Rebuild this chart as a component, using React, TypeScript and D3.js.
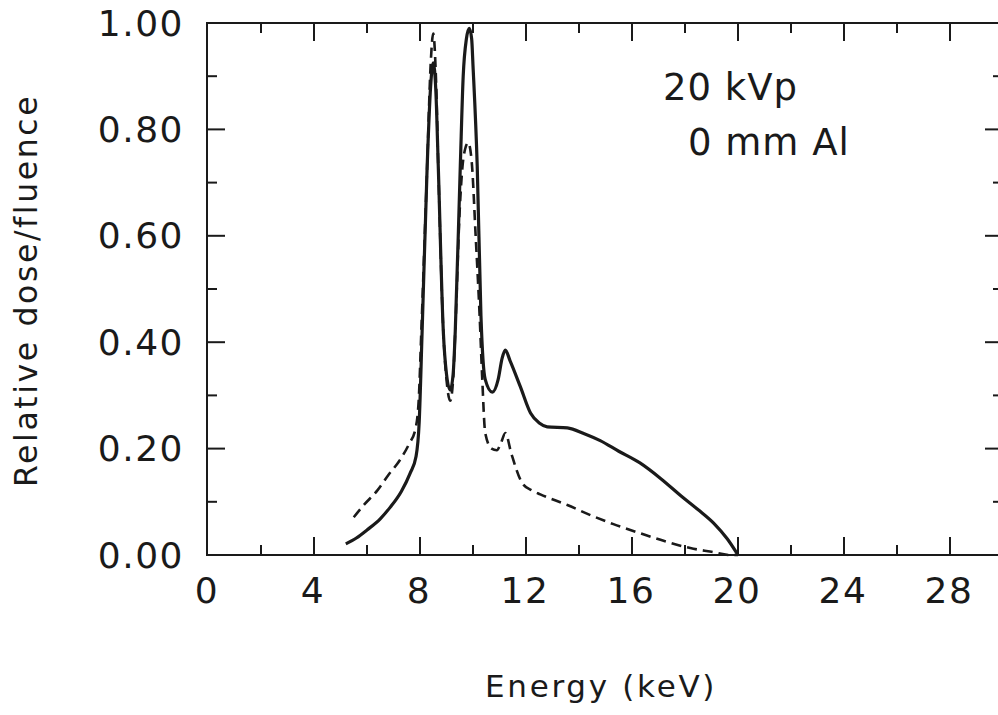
import React from "react";
import * as d3 from "d3";

const solidX = [5.2, 5.6, 6.0, 6.5, 6.88, 7.3, 7.63, 7.85, 7.97, 8.08, 8.27, 8.4, 8.5, 8.6, 8.69, 8.88, 9.0, 9.14, 9.25, 9.33, 9.52, 9.63, 9.75, 9.86, 9.95, 10.0, 10.16, 10.3, 10.46, 10.73, 10.95, 11.1, 11.22, 11.4, 11.79, 12.17, 12.5, 12.8, 13.56, 14.2, 14.8, 15.5, 16.3, 17.1, 17.9, 18.5, 19.08, 19.6, 20.0];
const solidY = [0.021, 0.032, 0.047, 0.068, 0.09, 0.12, 0.154, 0.185, 0.25, 0.42, 0.73, 0.88, 0.925, 0.87, 0.73, 0.42, 0.34, 0.31, 0.34, 0.42, 0.73, 0.9, 0.97, 0.99, 0.97, 0.92, 0.73, 0.45, 0.33, 0.306, 0.33, 0.37, 0.385, 0.365, 0.316, 0.267, 0.248, 0.241, 0.239, 0.228, 0.215, 0.195, 0.173, 0.143, 0.109, 0.085, 0.06, 0.03, 0.0];

const dashX = [5.5, 5.9, 6.4, 6.8, 7.25, 7.6, 7.82, 7.95, 8.05, 8.27, 8.4, 8.5, 8.6, 8.69, 8.88, 9.0, 9.14, 9.25, 9.33, 9.5, 9.65, 9.82, 9.95, 10.1, 10.25, 10.35, 10.46, 10.7, 10.9, 11.05, 11.22, 11.45, 11.86, 12.2, 12.54, 13.56, 14.43, 15.3, 16.3, 17.3, 18.2, 19.0, 19.7, 20.0];
const dashY = [0.071, 0.095, 0.122, 0.15, 0.179, 0.21, 0.235, 0.29, 0.42, 0.73, 0.92, 0.98, 0.9, 0.73, 0.42, 0.33, 0.29, 0.33, 0.42, 0.65, 0.75, 0.775, 0.74, 0.6, 0.45, 0.33, 0.23, 0.2, 0.197, 0.21, 0.229, 0.19, 0.135, 0.122, 0.114, 0.094, 0.075, 0.058, 0.041, 0.025, 0.013, 0.006, 0.0, 0.0];

const xTickLabels = ["0", "4", "8", "12", "16", "20", "24", "28"];
const yTickLabels = ["0.00", "0.20", "0.40", "0.60", "0.80", "1.00"];
const annotations = ["20 kVp", "0 mm Al"];
const xTitle = "Energy (keV)";
const yTitle = "Relative dose/fluence";

const W = 998;
const H = 715;
const FONT = "'DejaVu Sans', sans-serif";
const INK = "#1a1a1a";

export default function App() {
  const x = d3.scaleLinear().domain([0, 30]).range([208, 1003]);
  const y = d3.scaleLinear().domain([0, 1]).range([555, 23]);

  const line = d3
    .line<[number, number]>()
    .x((d) => x(d[0]))
    .y((d) => y(d[1]))
    .curve(d3.curveMonotoneX);

  const solidPts: [number, number][] = solidX.map((v, i) => [v, solidY[i]]);
  const dashPts: [number, number][] = dashX.map((v, i) => [v, dashY[i]]);

  const xMinor = d3.range(0, 31, 2);
  const yMinor = d3.range(0, 1.001, 0.1);

  const left = 207;
  const right = x(30);
  const top = y(1);
  const bottom = y(0);

  return (
    <svg
      width={W}
      height={H}
      style={{ position: "absolute", left: 0, top: 0, background: "#fff" }}
    >
      <rect x={0} y={0} width={W} height={H} fill="#fff" />
      <rect
        x={left}
        y={top}
        width={right - left}
        height={bottom - top}
        fill="none"
        stroke={INK}
        strokeWidth={2}
      />
      {xMinor.map((v) => {
        const major = v % 4 === 0;
        const len = major ? 18 : 10;
        if (v === 0 || v === 30) return null;
        return (
          <g key={"xt" + v}>
            <line x1={x(v)} x2={x(v)} y1={bottom} y2={bottom - len} stroke={INK} strokeWidth={2} />
            <line x1={x(v)} x2={x(v)} y1={top} y2={top + len} stroke={INK} strokeWidth={2} />
          </g>
        );
      })}
      {yMinor.map((v, i) => {
        if (i === 0 || i === 10) return null;
        const major = i % 2 === 0;
        const len = major ? 18 : 10;
        return (
          <g key={"yt" + i}>
            <line x1={left} x2={left + len} y1={y(v)} y2={y(v)} stroke={INK} strokeWidth={2} />
            <line x1={right} x2={right - len} y1={y(v)} y2={y(v)} stroke={INK} strokeWidth={2} />
          </g>
        );
      })}
      {xTickLabels.map((t) => (
        <text
          key={"xl" + t}
          x={x(+t) - 1}
          y={603}
          textAnchor="middle"
          fontFamily={FONT}
          fontSize={36}
          letterSpacing={1.5}
          fill={INK}
        >
          {t}
        </text>
      ))}
      {yTickLabels.map((t) => (
        <text
          key={"yl" + t}
          x={184}
          y={y(+t) + 12.5}
          textAnchor="end"
          fontFamily={FONT}
          fontSize={36}
          letterSpacing={1.5}
          fill={INK}
        >
          {t}
        </text>
      ))}
      <text
        x={485}
        y={697}
        fontFamily={FONT}
        fontSize={31}
        letterSpacing={2.7}
        fill={INK}
      >
        {xTitle}
      </text>
      <text
        transform={`translate(37,487) rotate(-90)`}
        fontFamily={FONT}
        fontSize={31.5}
        letterSpacing={2.6}
        fill={INK}
      >
        {yTitle}
      </text>
      <text x={663} y={100} fontFamily={FONT} fontSize={37} letterSpacing={1} fill={INK}>
        {annotations[0]}
      </text>
      <text x={688} y={155} fontFamily={FONT} fontSize={37} letterSpacing={1} fill={INK}>
        {annotations[1]}
      </text>
      <path d={line(dashPts) || ""} fill="none" stroke={INK} strokeWidth={2.6} strokeDasharray="10,6" />
      <path d={line(solidPts) || ""} fill="none" stroke={INK} strokeWidth={3.2} strokeLinejoin="round" />
    </svg>
  );
}
